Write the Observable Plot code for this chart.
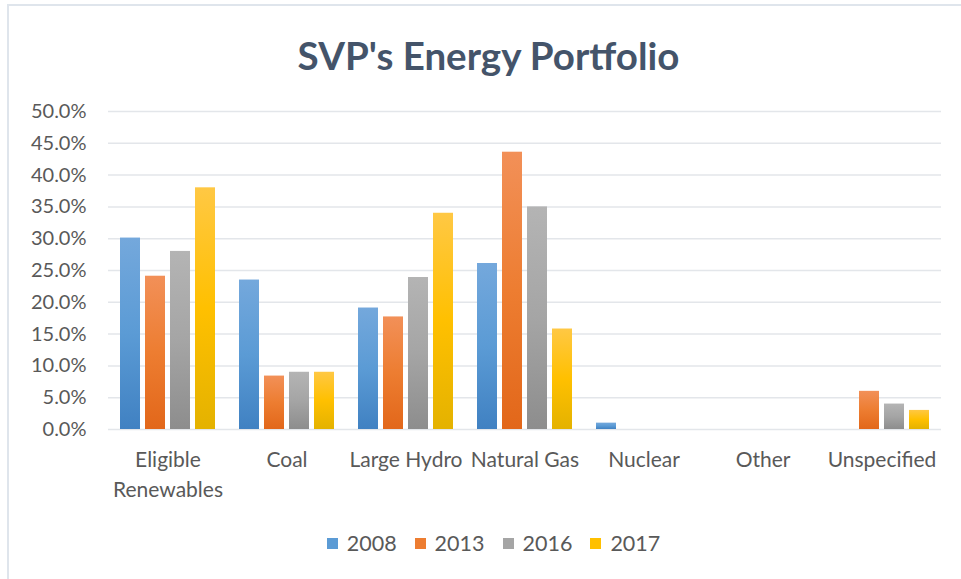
<!DOCTYPE html>
<html>
<head>
<meta charset="utf-8">
<script src="https://cdn.jsdelivr.net/npm/d3@7"></script>
<script src="https://cdn.jsdelivr.net/npm/@observablehq/plot@0.6"></script>
<style>
  html, body { margin: 0; padding: 0; background: #fff; }
  #frame { position: relative; width: 961px; height: 579px; overflow: hidden; background: #fff; font-family: Lato, "Open Sans", sans-serif; }
  #frame .bt { position: absolute; left: 7px; top: 4px; right: 0; height: 2px; background: #dfe5ec; }
  #frame .bl { position: absolute; left: 7px; top: 4px; bottom: 0; width: 2px; background: #dfe5ec; }
  #title { position: absolute; left: 0; width: 977px; top: 31px; text-align: center; font-size: 38.5px; font-weight: 700; color: #44546a; line-height: 48px; }
  #chart { position: absolute; left: 0; top: 95px; }
  #legend { position: absolute; left: 0; width: 987px; top: 530px; display: flex; justify-content: center; gap: 18px; font-size: 21.5px; color: #595959; line-height: 26px; }
  #legend .item { display: flex; align-items: center; gap: 9px; }
  #legend .sw { width: 11px; height: 11px; display: inline-block; }
</style>
</head>
<body>
<div id="frame">
  <div class="bt"></div><div class="bl"></div>
  <div id="title">SVP's Energy Portfolio</div>
  <div id="chart"></div>
  <div id="legend"></div>
</div>
<script>
const categories = ["Eligible Renewables", "Coal", "Large Hydro", "Natural Gas", "Nuclear", "Other", "Unspecified"];
const years = ["2008", "2013", "2016", "2017"];
const v2008 = [30.1, 23.5, 19.1, 26.1, 1.0, 0, 0];
const v2013 = [24.1, 8.4, 17.7, 43.6, 0, 0, 6.0];
const v2016 = [28.0, 9.0, 23.9, 35.0, 0, 0, 4.0];
const v2017 = [38.0, 9.0, 34.0, 15.8, 0, 0, 3.0];
const yTicks = [0, 5, 10, 15, 20, 25, 30, 35, 40, 45, 50];
const colors = ["#5B9BD5", "#ED7D31", "#A5A5A5", "#FFC000"];
const topColors = ["#74a8dc", "#f29058", "#b4b4b4", "#ffc844"];
const bottomColors = ["#4081c2", "#e2671a", "#8d8d8d", "#e4b200"];

const series = [v2008, v2013, v2016, v2017];
const rows = years.map((yr, i) =>
  categories.map((c, j) => ({category: c, year: yr, value: series[i][j]}))
);

const plot = Plot.plot({
  width: 961,
  height: 420,
  marginLeft: 107,
  marginRight: 20,
  marginTop: 16,
  marginBottom: 86,
  style: {fontFamily: "Lato, 'Open Sans', sans-serif", fontSize: "20px", color: "#595959", background: "transparent"},
  fx: {domain: categories, paddingInner: 0, paddingOuter: 0},
  x: {domain: years, paddingInner: 0.2, paddingOuter: 0.43, axis: null},
  y: {domain: [0, 50]},
  marks: [
    Plot.ruleY(yTicks, {stroke: "#e3e6ea", strokeWidth: 1.5}),
    ...years.map((yr, i) => Plot.barY(rows[i], {
      fx: "category",
      x: "year",
      y: "value",
      fill: `url(#grad${yr})`
    })),
    Plot.axisY(yTicks, {tickSize: 0, tickPadding: 22, label: null, fontSize: 20, tickFormat: d => d.toFixed(1) + "%"}),
    Plot.axisFx({anchor: "bottom", tickSize: 0, tickPadding: 16, label: null, fontSize: 21, lineHeight: 1.43,
      tickFormat: d => d === "Eligible Renewables" ? "Eligible\nRenewables" : d})
  ]
});

// gradient definitions
const ns = "http://www.w3.org/2000/svg";
const defs = document.createElementNS(ns, "defs");
years.forEach((yr, i) => {
  const g = document.createElementNS(ns, "linearGradient");
  g.setAttribute("id", "grad" + yr);
  g.setAttribute("x1", "0"); g.setAttribute("y1", "0");
  g.setAttribute("x2", "0"); g.setAttribute("y2", "1");
  [[0, topColors[i]], [0.5, colors[i]], [1, bottomColors[i]]].forEach(([o, c]) => {
    const s = document.createElementNS(ns, "stop");
    s.setAttribute("offset", o);
    s.setAttribute("stop-color", c);
    g.appendChild(s);
  });
  defs.appendChild(g);
});
plot.insertBefore(defs, plot.firstChild);
document.getElementById("chart").appendChild(plot);

// legend
const legend = document.getElementById("legend");
years.forEach((yr, i) => {
  const item = document.createElement("div");
  item.className = "item";
  const sw = document.createElement("span");
  sw.className = "sw";
  sw.style.background = colors[i];
  const t = document.createElement("span");
  t.textContent = yr;
  item.appendChild(sw); item.appendChild(t);
  legend.appendChild(item);
});
</script>
</body>
</html>
